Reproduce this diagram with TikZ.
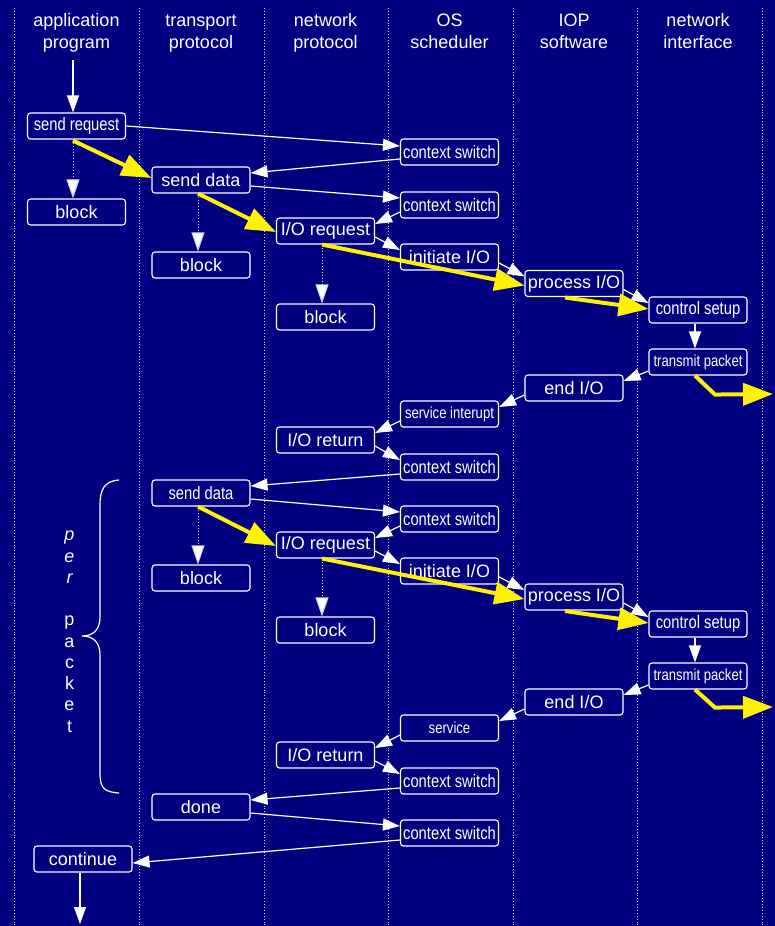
\documentclass[tikz,border=0pt]{standalone}
\usepackage{fontspec}
\setmainfont{Liberation Sans}
\newfontfamily\narrowfont[FakeStretch=0.82]{Liberation Sans}
\usetikzlibrary{arrows.meta,calc}

\definecolor{bgnavy}{RGB}{0,0,128}
\definecolor{sepline}{RGB}{205,205,235}

% connector from the lower right of one box to the upper left of the next
\newcommand{\flowR}[2]{\draw[warrow] ($(#1.east)+(0,6)$) -- ($(#2.west)+(0,-7)$);}
% connector from the lower left of one box to the upper right of the next
\newcommand{\flowL}[2]{\draw[warrow] ($(#1.west)+(0,7)$) -- ($(#2.east)+(0,-7)$);}

\begin{document}
\begin{tikzpicture}[x=1pt,y=-1pt,
  box/.style={draw=white, line width=1.1pt, rounded corners=3pt, fill=bgnavy,
    text=white, minimum width=98pt, minimum height=26pt, inner sep=0pt,
    font=\fontsize{18}{20}\selectfont},
  nbox/.style={box, font=\narrowfont\fontsize{18}{20}\selectfont},
  sbox/.style={box, font=\narrowfont\fontsize{16}{18}\selectfont},
  head/.style={text=white, inner sep=0pt, anchor=base, font=\fontsize{18}{20}\selectfont},
  letter/.style={text=white, inner sep=0pt, anchor=base, font=\fontsize{18}{20}\selectfont},
  warrow/.style={draw=white, line width=1.2pt, -{Triangle[length=17pt,width=12pt]}},
  dotarrow/.style={draw=sepline, line width=1pt, dotted, -{Triangle[length=19pt,width=13pt,fill=white]}},
  yarrow/.style={draw=yellow, line width=4pt, line join=miter, -{Triangle[length=30pt,width=22pt]}},
  sep/.style={draw=sepline, line width=0.9pt, dotted},
]
% background and page frame
\fill[bgnavy] (0,0) rectangle (775,926);
\useasboundingbox (0,0) rectangle (775,926);

% column separators
\foreach \xx in {14,139,264,388,513,637,762}
  \draw[sep] (\xx,8) -- (\xx,926);

% column headings
\foreach \xx/\la/\lb/\nm in {76.5/application/program/app, 201/transport/protocol/tra,
    325.5/network/protocol/net, 449.5/OS/scheduler/os, 574/IOP/software/iop,
    698/network/interface/nif} {
  \node[head] (h\nm a) at (\xx,27) {\la};
  \node[head] (h\nm b) at (\xx,48) {\lb};
}

% application program
\node[nbox] (sreq) at (76.5,126) {send request};
\node[box]  (blk1) at (76.5,212) {block};
\node[box]  (cont) at (83,859) {continue};

% transport protocol
\node[box]  (sd1)  at (201,180) {send data};
\node[box]  (blk2) at (201,265) {block};
\node[nbox] (sd2)  at (201,493) {send data};
\node[box]  (blk4) at (201,578) {block};
\node[box]  (done) at (201,807) {done};

% network protocol
\node[box] (ior1)  at (325.5,231) {I/O request};
\node[box] (blk3)  at (325.5,317) {block};
\node[box] (iort1) at (325.5,440) {I/O return};
\node[box] (ior2)  at (325.5,545) {I/O request};
\node[box] (blk5)  at (325.5,630) {block};
\node[box] (iort2) at (325.5,755) {I/O return};

% OS scheduler
\node[nbox] (cs1)   at (449.5,152) {context switch};
\node[nbox] (cs2)   at (449.5,205) {context switch};
\node[box]  (init1) at (449.5,257) {initiate I/O};
\node[sbox] (svi)   at (449.5,414) {service interupt};
\node[nbox] (cs3)   at (449.5,467) {context switch};
\node[nbox] (cs4)   at (449.5,519) {context switch};
\node[box]  (init2) at (449.5,571) {initiate I/O};
\node[sbox] (svc)   at (449.5,728) {service};
\node[nbox] (cs5)   at (449.5,781) {context switch};
\node[nbox] (cs6)   at (449.5,833) {context switch};

% IOP software
\node[box] (pio1) at (574,283.5) {process I/O};
\node[box] (eio1) at (574,388) {end I/O};
\node[box] (pio2) at (574,597) {process I/O};
\node[box] (eio2) at (574,702) {end I/O};

% network interface
\node[nbox] (ctl1) at (698,310) {control setup};
\node[sbox] (tp1)  at (698,362) {transmit packet};
\node[nbox] (ctl2) at (698,624) {control setup};
\node[sbox] (tp2)  at (698,676) {transmit packet};

% free ends
\coordinate (appin)  at (73,60);
\coordinate (appout) at (80,924);
\coordinate (tx1)    at (773,394);
\coordinate (tx2)    at (773,707);

% control flow
\draw[warrow] (appin) -- (appin |- sreq.north);
\draw[warrow] (sreq.east) -- ($(cs1.west)+(0,-6)$);
\flowL{cs1}{sd1}
\flowR{sd1}{cs2}
\flowL{cs2}{ior1}
\flowR{ior1}{init1}
\flowR{init1}{pio1}
\flowR{pio1}{ctl1}
\draw[warrow] ($(ctl1.south)+(-3,0)$) -- ($(tp1.north)+(-3,0)$);
\draw[warrow] ($(tp1.west)+(0,9)$) -- ($(eio1.east)+(0,-7)$);
\flowL{eio1}{svi}
\flowL{svi}{iort1}
\flowR{iort1}{cs3}
\flowL{cs3}{sd2}
\flowR{sd2}{cs4}
\flowL{cs4}{ior2}
\flowR{ior2}{init2}
\flowR{init2}{pio2}
\flowR{pio2}{ctl2}
\draw[warrow] ($(ctl2.south)+(-3,0)$) -- ($(tp2.north)+(-3,0)$);
\draw[warrow] ($(tp2.west)+(0,9)$) -- ($(eio2.east)+(0,-7)$);
\flowL{eio2}{svc}
\flowL{svc}{iort2}
\flowR{iort2}{cs5}
\flowL{cs5}{done}
\flowR{done}{cs6}
\draw[warrow] ($(cs6.west)+(0,7)$) -- ($(cont.east)+(0,4)$);
\draw[warrow] (appout |- cont.south) -- (appout);

% blocking waits
\draw[dotarrow] ($(sreq.south)+(-3.5,0)$) -- ($(blk1.north)+(-3.5,0)$);
\draw[dotarrow] ($(sd1.south)+(-3,0)$) -- ($(blk2.north)+(-3,0)$);
\draw[dotarrow] ($(ior1.south)+(-3.5,0)$) -- ($(blk3.north)+(-3.5,0)$);
\draw[dotarrow] ($(sd2.south)+(-3,0)$) -- ($(blk4.north)+(-3,0)$);
\draw[dotarrow] ($(ior2.south)+(-3.5,0)$) -- ($(blk5.north)+(-3.5,0)$);

% data path
\draw[yarrow] ($(sreq.south)+(-3.5,1)$) -- ($(sd1.west)+(0,-2)$);
\draw[yarrow] ($(sd1.south)+(-3,0)$) -- ($(ior1.west)+(0,1)$);
\draw[yarrow] ($(ior1.south)+(-3.5,0)$) -- ($(pio1.west)+(0,2)$);
\draw[yarrow] ($(pio1.south)+(-9,0.5)$) -- ($(ctl1.west)+(0,-1)$);
\draw[yarrow] ($(tp1.south)+(-3,0)$) -- ++(20,19) -- (tx1);
\draw[yarrow] ($(sd2.south)+(-3,0)$) -- ($(ior2.west)+(0,1)$);
\draw[yarrow] ($(ior2.south)+(-3.5,0)$) -- ($(pio2.west)+(0,2)$);
\draw[yarrow] ($(pio2.south)+(-9,0.5)$) -- ($(ctl2.west)+(0,-1)$);
\draw[yarrow] ($(tp2.south)+(-3,0)$) -- ++(20,18) -- (tx2);

% per-packet brace
\draw[white, line width=1.2pt]
  (119,480) .. controls (104,481) and (100,490) .. (100,505)
  -- (100,617) .. controls (100,630) and (93,636) .. (82,636)
  .. controls (93,636) and (100,642) .. (100,655)
  -- (100,773) .. controls (100,788) and (104,792) .. (119,793);

\foreach \ch/\yy/\nm in {p/540/a, e/562/b, r/583/c}
  \node[letter, font=\fontsize{18}{20}\selectfont\itshape] (pp\nm) at (69.5,\yy) {\ch};
\foreach \ch/\yy/\nm in {p/625/d, a/647/e, c/668/f, k/689/g, e/710/h, t/732/i}
  \node[letter] (pp\nm) at (69.5,\yy) {\ch};
\end{tikzpicture}
\end{document}
